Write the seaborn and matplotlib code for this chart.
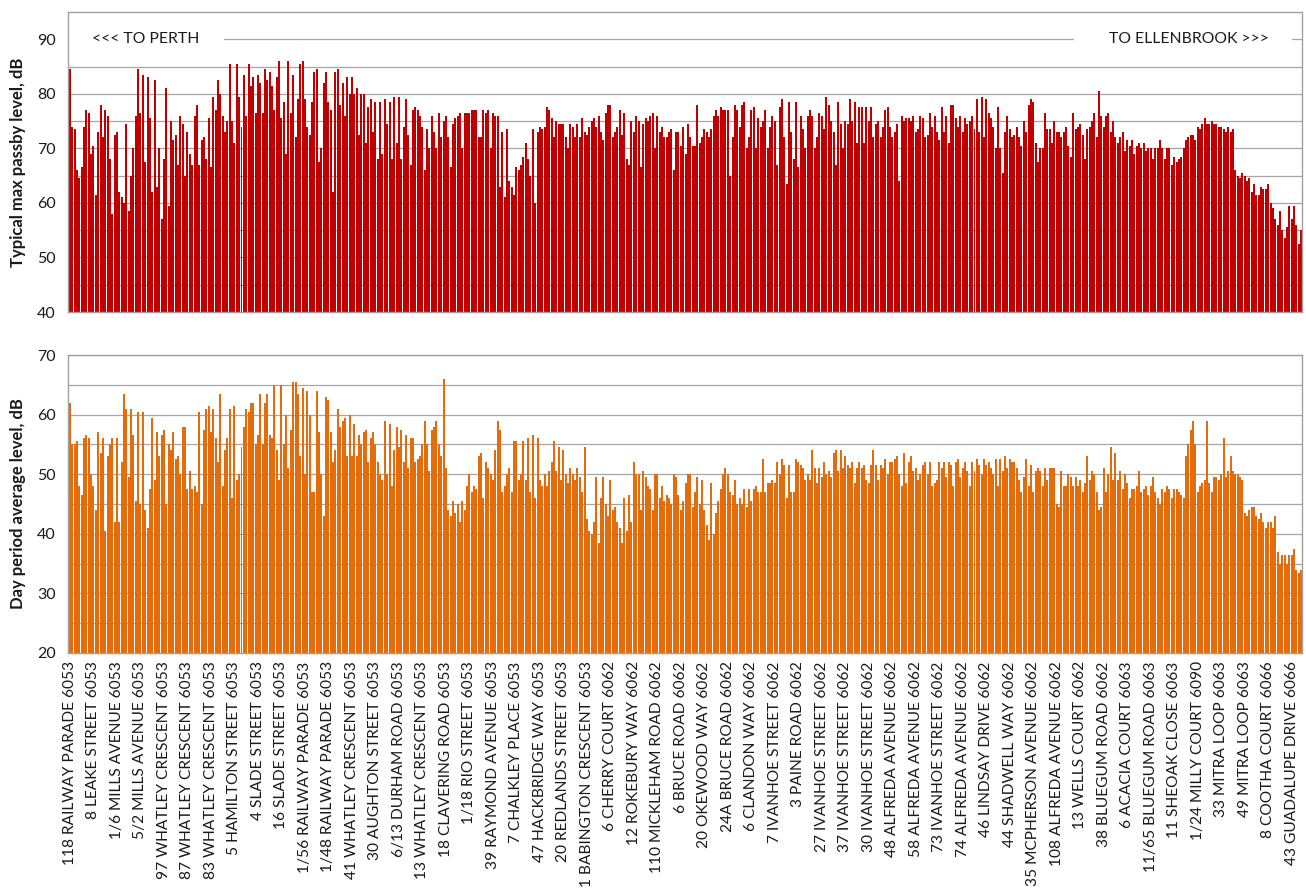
import matplotlib
matplotlib.use("Agg")
import matplotlib.pyplot as plt
import pandas as pd
import seaborn as sns
from matplotlib.patches import Rectangle
from matplotlib.ticker import FixedLocator

# Receiver addresses, one label for every tenth position along the line
street_labels = [
    "118 RAILWAY PARADE 6053", "8 LEAKE STREET 6053", "1/6 MILLS AVENUE 6053",
    "5/2 MILLS AVENUE 6053", "97 WHATLEY CRESCENT 6053", "87 WHATLEY CRESCENT 6053",
    "83 WHATLEY CRESCENT 6053", "5 HAMILTON STREET 6053", "4 SLADE STREET 6053",
    "16 SLADE STREET 6053", "1/56 RAILWAY PARADE 6053", "1/48 RAILWAY PARADE 6053",
    "41 WHATLEY CRESCENT 6053", "30 AUGHTON STREET 6053", "6/13 DURHAM ROAD 6053",
    "13 WHATLEY CRESCENT 6053", "18 CLAVERING ROAD 6053", "1/18 RIO STREET 6053",
    "39 RAYMOND AVENUE 6053", "7 CHALKLEY PLACE 6053", "47 HACKBRIDGE WAY 6053",
    "20 REDLANDS STREET 6053", "1 BABINGTON CRESCENT 6053", "6 CHERRY COURT 6062",
    "12 ROKEBURY WAY 6062", "110 MICKLEHAM ROAD 6062", "6 BRUCE ROAD 6062",
    "20 OKEWOOD WAY 6062", "24A BRUCE ROAD 6062", "6 CLANDON WAY 6062",
    "7 IVANHOE STREET 6062", "3 PAINE ROAD 6062", "27 IVANHOE STREET 6062",
    "37 IVANHOE STREET 6062", "30 IVANHOE STREET 6062", "48 ALFREDA AVENUE 6062",
    "58 ALFREDA AVENUE 6062", "73 IVANHOE STREET 6062", "74 ALFREDA AVENUE 6062",
    "46 LINDSAY DRIVE 6062", "44 SHADWELL WAY 6062", "35 MCPHERSON AVENUE 6062",
    "108 ALFREDA AVENUE 6062", "13 WELLS COURT 6062", "38 BLUEGUM ROAD 6062",
    "6 ACACIA COURT 6063", "11/65 BLUEGUM ROAD 6063", "11 SHEOAK CLOSE 6063",
    "1/24 MILLY COURT 6090", "33 MITRA LOOP 6063", "49 MITRA LOOP 6063",
    "8 COOTHA COURT 6066", "43 GUADALUPE DRIVE 6066",
]

# Typical maximum pass-by level (dB), in order from Perth towards Ellenbrook
passby_seg1 = [
    84.5, 74, 73.5, 66, 64.5, 66.5, 74, 77, 76.5, 69,
    70.5, 61.5, 73, 78, 72, 77, 76, 68, 58, 72.5,
    73, 62, 61, 60, 74.5, 58.5, 65, 70, 76, 84.5,
    76.5, 83.5, 67.5, 83, 75.5, 62, 82.5, 63, 70, 57,
    68, 81, 59.5, 75, 71.5, 72.5, 67, 76, 74.5, 65,
    73, 69, 67, 76, 78, 67, 71.5, 72, 68, 75.5,
    66.5, 79.5, 77, 82.5, 80, 76, 73, 75, 85.5, 75,
    71, 85.5, 79.5, 74, 83.5, 76, 85.5, 81.5, 83, 76.5,
    83.5, 82, 76.5, 84.5, 82.5, 84, 81.5, 77, 83, 86,
    75.5, 78.5, 69, 86, 76.5, 83.5, 72, 79, 85.5, 86,
    79, 74, 72.5, 78.5, 84, 84.5, 67.5, 70, 82, 84,
    78.5, 77, 62, 84, 84.5, 78, 82, 76, 83, 80,
    83, 80, 81, 72.5, 80, 80, 71, 77.5, 79, 73,
]
passby_seg2 = [
    78.5, 68, 78.5, 69, 79, 74.5, 78.5, 68, 79.5, 71,
    79.5, 68, 74, 79, 72.5, 67, 77, 77.5, 77, 76,
    74, 66, 73.5, 70, 76, 73, 70, 76.5, 72, 75,
    76, 72, 66.5, 74.5, 75.5, 76, 76.5, 70, 76.5, 76.5,
    76.5, 77, 77, 77, 72, 72, 77, 76.5, 77, 70,
    76.5, 76, 76, 63, 73, 61, 73.5, 64, 63, 61.5,
    66.5, 66, 67, 68.5, 71, 68, 65, 73.5, 60, 73,
    74, 73.5, 74, 77.5, 77, 75.5, 72, 75, 74.5, 74.5,
    74.5, 72, 70, 74.5, 74, 72, 74.5, 72, 75.5, 73,
    72.5, 74, 75, 75.5, 74, 76, 73, 71.5, 76.5, 78,
    78, 72, 73, 74, 77, 72.5, 76.5, 68, 67, 75,
    73, 76, 75, 66.5, 74.5, 75.5, 75, 76, 76.5, 70,
    76, 73, 74, 72, 72, 73, 73.5, 66, 73, 73,
]
passby_seg3 = [
    70.5, 74, 69, 74.5, 72, 70.5, 70.5, 78, 71, 72,
    73.5, 73, 72, 73.5, 76, 77, 76, 77.5, 77, 77,
    77, 65, 72, 78, 77, 74, 78, 78.5, 70, 72,
    77, 77.5, 70, 75.5, 74, 75, 77, 70, 74, 76,
    75, 67, 77.5, 79, 72, 63.5, 78.5, 73, 68, 78.5,
    66.5, 76, 73.5, 70, 76, 77, 76, 70, 72, 76.5,
    76, 73.5, 79.5, 78, 75, 73, 67, 78.5, 74.5, 70,
    75, 74.5, 79, 75, 78.5, 71, 77.5, 77.5, 71, 77.5,
    75, 77.5, 72, 74.5, 75, 72, 74, 77, 77.5, 74,
    72, 73, 74.5, 64, 76, 75, 75.5, 75.5, 75, 76,
    73, 73.5, 76, 75.5, 72, 72.5, 76.5, 74, 76, 73,
    71.5, 77.5, 73, 76, 71, 78, 78, 75.5, 74, 76,
    73, 75.5, 74.5, 75, 76, 73.5, 79, 73, 79.5, 72,
]
passby_seg4 = [
    79, 76.5, 75.5, 74, 70, 77.5, 70, 65.5, 73, 76,
    73.5, 72, 72.5, 74, 72, 70.5, 75, 73, 78, 79,
    78.5, 71, 67.5, 70, 70, 76.5, 73.5, 73.5, 71, 75,
    73, 73, 72, 73, 74, 70.5, 68.5, 76.5, 73.5, 74,
    74.5, 72.5, 68, 73.5, 74, 75, 76.5, 72, 80.5, 76,
    74, 76, 76.5, 73, 75, 72, 71, 72, 73, 69.5,
    71.5, 70.5, 71.5, 69, 70.5, 71, 70, 71, 69.5, 70,
    70, 68, 70, 70, 71.5, 70, 68, 70, 70, 67,
    68.5, 67.5, 68, 68.5, 70, 71.5, 72, 72.5, 72.5, 71.5,
    74, 73.5, 74.5, 75.5, 74.5, 74.5, 75, 74.5, 74.5, 74,
    74, 73.5, 73, 74, 73, 73.5, 66, 65, 64.5, 65.5,
    65, 64, 64.5, 62, 63.5, 61.5, 61.5, 63, 62.5, 62.5,
    63.5, 60, 59, 57, 56, 58.5, 55, 53.5, 55.5, 59.5,
    57, 59.5, 56, 52.5, 55,
]

# Day period average level (dB), same receivers and order
day_seg1 = [
    62, 55, 55, 55.5, 48, 46.5, 56, 56.5, 56, 50,
    48, 44, 57, 53.5, 56, 40.5, 53, 55, 56, 42,
    56, 42, 52, 63.5, 61, 49.5, 61, 56.5, 45.5, 60.5,
    45, 60.5, 44, 41, 47.5, 59.5, 49, 57, 53, 56.5,
    57.5, 45, 55, 54, 57, 52.5, 53, 50, 58, 58,
    47.5, 50.5, 47.5, 48, 47, 60.5, 45, 57.5, 61, 61.5,
    57, 61, 56, 52, 63.5, 48, 54, 56, 61, 46,
    61.5, 49, 50, 54.5, 58, 61, 60.5, 62, 62, 55,
    56.5, 63.5, 55, 62, 63.5, 56.5, 56, 65, 54, 49,
    65, 55, 60, 51, 57.5, 65.5, 65.5, 63.5, 53, 64.5,
    50, 64, 60, 47, 47, 64, 57, 50, 43, 63,
    62.5, 57, 52, 54, 61, 58, 59, 59.5, 53, 60,
    53, 58.5, 53, 56.5, 55, 57, 57.5, 52, 56, 57,
]
day_seg2 = [
    55, 52, 50, 49, 59, 50, 58.5, 48, 54, 58,
    54.5, 57.5, 52, 56.5, 51, 56, 56, 52, 52.5, 53,
    55, 59, 55, 50.5, 57.5, 58, 59, 55, 53, 66,
    51, 44, 43, 45.5, 43.5, 45, 42, 45.5, 44, 48,
    50, 47, 48, 47.5, 53, 53.5, 46, 52, 51, 50,
    49, 54, 59, 57.5, 47, 48, 50, 51, 47, 55.5,
    55.5, 49, 50, 55.5, 49, 56, 47, 56.5, 46, 56,
    49, 48, 50, 48, 50.5, 52, 55.5, 50.5, 54.5, 49,
    54, 50, 48.5, 51, 50, 49, 51, 49.5, 47, 54.5,
    42.5, 40.5, 40, 42, 49.5, 38.5, 46, 49.5, 45, 43,
    49, 44, 44.5, 42, 41, 38.5, 46, 40.5, 46.5, 42,
    52, 50, 50, 44, 50.5, 49.5, 48, 47.5, 44, 50,
    50, 46, 48, 45.5, 46.5, 46, 45, 50, 49.5, 46.5,
]
day_seg3 = [
    44, 45.5, 48.5, 50, 50, 44.5, 47, 49.5, 45, 49,
    44, 41.5, 39, 48.5, 40, 43.5, 45.5, 47.5, 50, 51,
    50, 47, 46.5, 49, 45, 46, 45, 47.5, 44.5, 47.5,
    45.5, 47.5, 48, 47, 47, 52.5, 47, 48.5, 48.5, 49,
    48.5, 52, 50, 52.5, 51.5, 46, 51.5, 47, 47, 52.5,
    52, 51.5, 51, 49, 50, 49, 54, 51, 48.5, 51,
    49.5, 52, 50, 50.5, 49.5, 53.5, 54, 50.5, 54, 51,
    53, 51.5, 51, 52, 48.5, 51, 52, 51, 51.5, 49,
    48.5, 51.5, 54, 51.5, 49, 51.5, 51, 52.5, 50, 52,
    52, 52.5, 53, 50, 48, 53.5, 48.5, 52, 53, 50.5,
    51, 49, 50, 51.5, 52, 50, 52, 48, 48.5, 49,
    52, 51, 52, 49.5, 52, 51.5, 48, 52, 52.5, 49.5,
    51, 52, 50.5, 48, 52, 50.5, 52.5, 51.5, 50, 52.5,
]
day_seg4 = [
    51.5, 52, 51, 50, 52.5, 48, 52.5, 50.5, 53, 51,
    52.5, 52, 52, 51, 49, 47, 49.5, 52.5, 48, 51.5,
    47, 50.5, 51, 50.5, 48, 51, 49, 51, 51, 51,
    45, 44.5, 50.5, 48, 48, 50, 49.5, 48, 49.5, 48,
    49, 47, 48.5, 53, 49, 50.5, 50, 47, 44, 44.5,
    51, 47, 50, 54.5, 49, 53.5, 49, 50.5, 47.5, 50,
    48.5, 46, 47.5, 47.5, 48, 50.5, 47, 47.5, 48, 46.5,
    48, 49.5, 47, 46, 45, 47.5, 47, 48, 47.5, 46,
    47.5, 47.5, 47, 46.5, 46, 53, 55, 57.5, 59, 55,
    47, 48, 48.5, 49, 59, 48.5, 47, 49.5, 49.5, 49,
    50, 56, 49.5, 50.5, 53, 50.5, 50, 50, 49.5, 49,
    43.5, 43, 44, 44.5, 44.5, 43, 42.5, 43.5, 42, 41,
    42, 42, 41, 43, 37, 35, 36.5, 36.5, 35, 36.5,
    36.5, 37.5, 34, 33.5, 34,
]

passby = passby_seg1 + passby_seg2 + passby_seg3 + passby_seg4
day_avg = day_seg1 + day_seg2 + day_seg3 + day_seg4
label_step = 10

df = pd.DataFrame({
    "receiver": list(range(len(passby))),
    "passby": passby,
    "day": day_avg,
})

sns.set_theme(style="white")
plt.rcParams["font.family"] = ["Lato", "DejaVu Sans"]

W, H = 1306, 893
fig = plt.figure(figsize=(W / 100, H / 100), dpi=100)


def px_axes(left, top, right, bottom):
    return fig.add_axes([left / W, 1 - bottom / H, (right - left) / W, (bottom - top) / H])


ax1 = px_axes(68, 12, 1302, 312)
ax2 = px_axes(68, 355, 1302, 653)

red = "#C00000"
orange = "#E46C0A"
grid_col = "#A6A6A6"
text_col = "#1A1A1A"

sns.barplot(data=df, x="receiver", y="passby", color=red, saturation=1,
            width=0.85, errorbar=None, linewidth=0, ax=ax1)
sns.barplot(data=df, x="receiver", y="day", color=orange, saturation=1,
            width=0.85, errorbar=None, linewidth=0, ax=ax2)

n = len(df)
xmin, xmax = -0.85, n - 0.6

for ax, (lo, hi, top) in ((ax1, (40, 90, 95)), (ax2, (20, 70, 70))):
    ax.set_xlim(xmin, xmax)
    ax.set_ylim(lo, top)
    ax.yaxis.set_major_locator(FixedLocator(list(range(lo, hi + 1, 10))))
    ax.yaxis.set_minor_locator(FixedLocator(list(range(lo + 5, top, 10))))
    ax.set_axisbelow(True)
    ax.grid(axis="y", which="both", color=grid_col, linewidth=0.9)
    ax.grid(axis="x", visible=False)
    for sp in ax.spines.values():
        sp.set_visible(True)
        sp.set_color("#A0A0A0")
        sp.set_linewidth(1.0)
    ax.tick_params(axis="y", which="both", length=0, pad=9, labelsize=11.5, labelcolor=text_col)
    ax.set_xlabel("")

ax1.set_xticks([])
ax1.set_ylabel("Typical max passby level, dB", fontsize=12, fontweight="bold",
               color=text_col, labelpad=8)
ax2.set_ylabel("Day period average level, dB", fontsize=12, fontweight="bold",
               color=text_col, labelpad=8)

tick_pos = list(range(0, n, label_step))[:len(street_labels)]
ax2.set_xticks(tick_pos)
ax2.set_xticklabels(street_labels, rotation=90, fontsize=11.2, color=text_col)
ax2.tick_params(axis="x", length=0, pad=6)

# Direction captions sit on the 90 dB line, with the line cleared behind them
ax1.add_patch(Rectangle((xmin, 88.6), 66.5, 2.8, facecolor="white", edgecolor="none", zorder=0.8))
ax1.add_patch(Rectangle((427.5, 88.6), 92.5, 2.8, facecolor="white", edgecolor="none", zorder=0.8))
ax1.text(9.4, 90, "<<< TO PERTH", ha="left", va="center", fontsize=11.3, color=text_col, zorder=3)
ax1.text(510.5, 90, "TO ELLENBROOK >>>", ha="right", va="center", fontsize=11.3, color=text_col, zorder=3)

fig.savefig("out.png", dpi=100, facecolor="white")
